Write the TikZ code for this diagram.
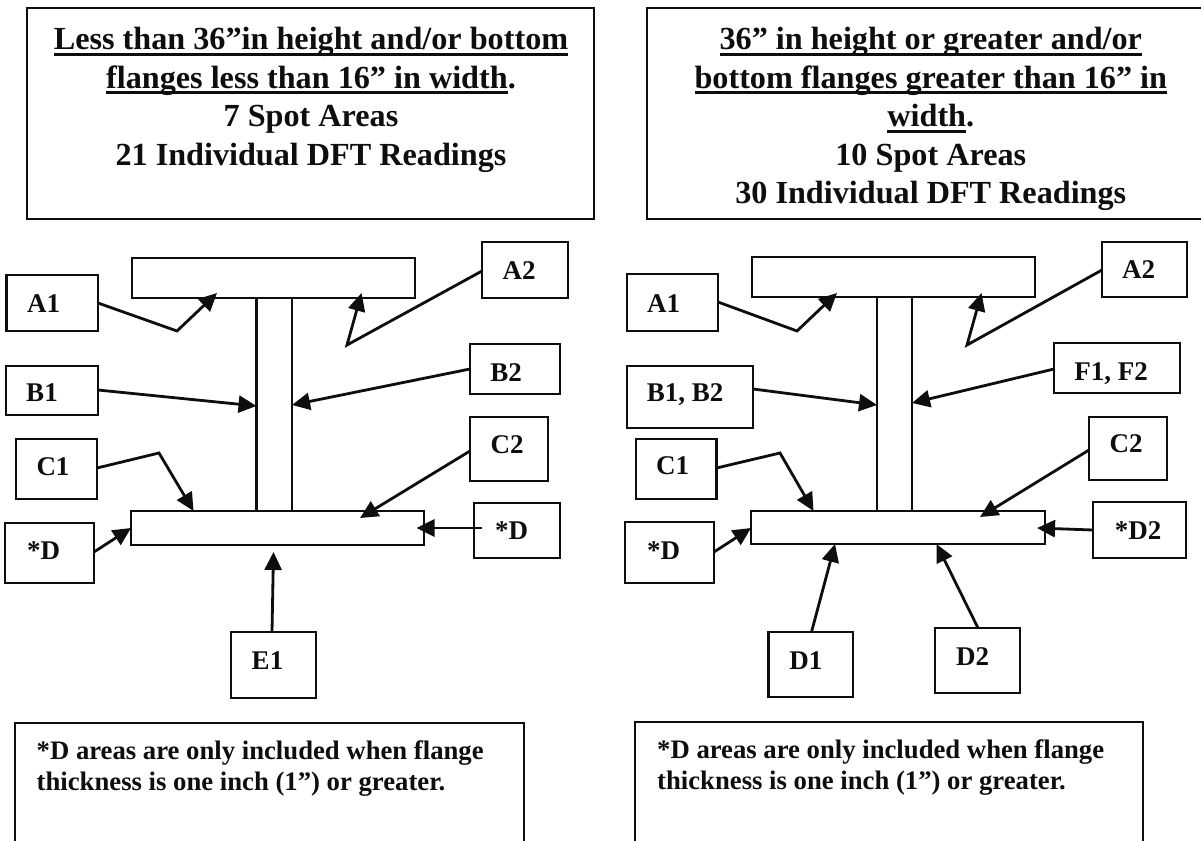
\documentclass[tikz,border=0pt]{standalone}
\usepackage{fontspec}
\setmainfont{Liberation Serif}
\usetikzlibrary{arrows.meta}
\newcommand{\ulx}[1]{\setbox0=\hbox{#1}\leavevmode\copy0\llap{\rule[-6pt]{\wd0}{3pt}}}
\definecolor{ink}{HTML}{0E0E0E}
\tikzset{
  boxed/.style={draw=ink,line width=2.7pt,inner sep=0pt,outer sep=0pt},
  conn/.style={draw=ink,line width=2.8pt,line join=miter,-{Triangle[length=18pt,width=17pt]}},
  lab/.style={anchor=base,inner sep=0pt,text=ink,font=\fontsize{27}{30}\selectfont\bfseries},
  head/.style={anchor=center,inner sep=0pt,text=ink,align=center,font=\fontsize{32.2}{38.5}\selectfont\bfseries},
  note/.style={anchor=base west,inner sep=0pt,text=ink,align=left,font=\fontsize{26.7}{31}\selectfont\bfseries}
}
\newcommand{\bx}[5]{\node[boxed,minimum width={(#4-#2)*1pt},minimum height={(#5-#3)*1pt}] (#1) at ({(#2+#4)/2},{(#3+#5)/2}) {};}
\newcommand{\lb}[4]{\node[lab] (#1) at (#2,#3+9) {#4};}
\begin{document}
\begin{tikzpicture}[x=1pt,y=-1pt]
\useasboundingbox (0,0) rectangle (1201,840);
\clip (0,0) rectangle (1201,840);
\fill[white] (0,0) rectangle (1201,840);
% ---------- left ----------
\bx{hL}{27}{8}{594}{219}
\node[head] (hLt) at (311,100) {\ulx{Less than 36”in height and/or bottom}\\\ulx{flanges less than 16” in width}.\\7 Spot Areas\\21 Individual DFT Readings};
\bx{ftL}{132}{258}{415}{298}
\bx{wL}{256.5}{298}{292}{511}
\bx{fbL}{131}{511}{424}{545}
\bx{A1L}{6.5}{275}{98}{331}\lb{tA1L}{43.6}{303}{A1}
\bx{A2L}{482}{242}{568}{298}\lb{tA2L}{519}{270}{A2}
\bx{B1L}{6}{366}{98}{415}\lb{tB1L}{42}{392.7}{B1}
\bx{B2L}{470}{344}{560}{394}\lb{tB2L}{506}{372}{B2}
\bx{C1L}{16}{439}{97}{499}\lb{tC1L}{53}{466}{C1}
\bx{C2L}{470}{417}{548}{481}\lb{tC2L}{507}{444}{C2}
\bx{DaL}{5}{523}{94}{583}\lb{tDaL}{43.6}{550}{*D}
\bx{DbL}{474}{503}{560}{558}\lb{tDbL}{511.5}{530.7}{*D}
\bx{E1L}{231}{632}{316}{698}\lb{tE1L}{267.5}{660}{E1}
\bx{nL}{15}{723}{524}{870}
\node[note] (ntL) at (36.5,790) {*D areas are only included when flange\\thickness is one inch (1”) or greater.};
\coordinate (a1Lb) at (177,331); \coordinate (a1Le) at (217,293);
\coordinate (a2Lb) at (347,345); \coordinate (a2Le) at (361.5,293);
\coordinate (c1Lb) at (159,453); \coordinate (c2Le) at (360,518);
\draw[conn] (A1L.east |- 0,303) -- (a1Lb) -- (a1Le);
\draw[conn] (A2L.west |- 0,271) -- (a2Lb) -- (a2Le);
\draw[conn] (B1L.east |- 0,390) -- (wL.west |- 0,406);
\draw[conn] (B2L.west |- 0,369) -- (wL.east |- 0,405);
\draw[conn] (C1L.east |- 0,468) -- (c1Lb) -- (fbL.north -| 193.5,0);
\draw[conn] (C2L.west |- 0,451) -- (c2Le);
\draw[conn] (DaL.east |- 0,552) -- (fbL.west |- 0,528);
\coordinate (dbLe) at (416.5,528);
\draw[conn] (DbL.west |- 0,528) ++(7.5,0) -- (dbLe);
\coordinate (e1Le) at (273.5,552);
\draw[conn] (E1L.north -| 272,0) -- (e1Le);
% ---------- right ----------
\bx{hR}{647}{8}{1210}{219}
\node[head] (hRt) at (930.8,119) {\ulx{36” in height or greater and/or}\\\ulx{bottom flanges greater than 16” in}\\\ulx{width}.\\10 Spot Areas\\30 Individual DFT Readings};
\bx{ftR}{752}{257}{1035}{297}
\bx{wR}{877}{297}{912}{511}
\bx{fbR}{751}{511}{1045}{544}
\bx{A1R}{627}{274}{718}{331}\lb{tA1R}{663.5}{303}{A1}
\bx{A2R}{1102}{242}{1187}{297}\lb{tA2R}{1138.5}{269}{A2}
\bx{B1R}{627}{366}{753}{428}\lb{tB1R}{685}{392}{B1, B2}
\bx{F1R}{1054}{343}{1180}{393}\lb{tF1R}{1111}{371}{F1, F2}
\bx{C1R}{636}{439}{716.5}{499}\lb{tC1R}{672.7}{465}{C1}
\bx{C2R}{1089}{417}{1167}{480}\lb{tC2R}{1126}{443}{C2}
\bx{DaR}{625}{522}{714}{583}\lb{tDaR}{663.5}{550}{*D}
\bx{DbR}{1093}{502}{1186}{558}\lb{tDbR}{1138}{530}{*D2}
\bx{D1R}{768.5}{632}{853}{697}\lb{tD1R}{805.8}{660}{D1}
\bx{D2R}{935}{628}{1020}{693}\lb{tD2R}{972.7}{656}{D2}
\bx{nR}{635}{722}{1143}{870}
\node[note] (ntR) at (657,789) {*D areas are only included when flange\\thickness is one inch (1”) or greater.};
\coordinate (a1Rb) at (797,331); \coordinate (a1Re) at (837,293);
\coordinate (a2Rb) at (967,345); \coordinate (a2Re) at (981.5,293);
\coordinate (c1Rb) at (780,453); \coordinate (c2Re) at (980,517);
\draw[conn] (A1R.east |- 0,302) -- (a1Rb) -- (a1Re);
\draw[conn] (A2R.west |- 0,270) -- (a2Rb) -- (a2Re);
\draw[conn] (B1R.east |- 0,389) -- (wR.west |- 0,405);
\draw[conn] (F1R.west |- 0,369) -- (wR.east |- 0,403);
\draw[conn] (C1R.east |- 0,468) -- (c1Rb) -- (fbR.north -| 813.5,0);
\draw[conn] (C2R.west |- 0,450) -- (c2Re);
\draw[conn] (DaR.east |- 0,552) -- (fbR.west |- 0,528);
\coordinate (dbRe) at (1037,528);
\draw[conn] (DbR.west |- 0,530) -- (dbRe);
\draw[conn] (D1R.north -| 811.5,0) -- (fbR.south -| 835,0);
\draw[conn] (D2R.north -| 978,0) -- (fbR.south -| 936.5,0);
\end{tikzpicture}
\end{document}
